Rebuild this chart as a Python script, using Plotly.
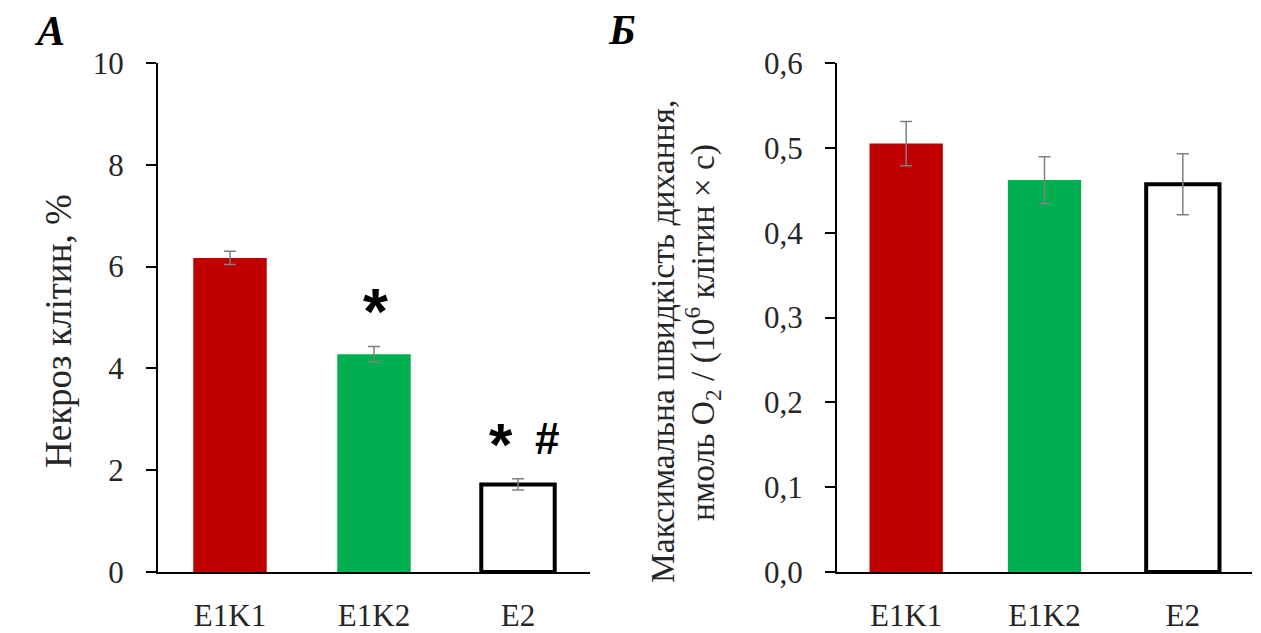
import plotly.graph_objects as go

# figure fills the whole window; the page's default body margin is removed in post_script
OFF = 0
W, H = 1261, 633

categories = ["E1K1", "E1K2", "E2"]

necrosis = [6.17, 4.28, 1.72]
necrosis_err = [0.13, 0.15, 0.11]

resp = [0.505, 0.462, 0.457]
resp_err = [0.026, 0.0275, 0.036]

yticks_a = [0, 2, 4, 6, 8, 10]
yticks_b = [0.0, 0.1, 0.2, 0.3, 0.4, 0.5, 0.6]
yticklabels_b = ["0,0", "0,1", "0,2", "0,3", "0,4", "0,5", "0,6"]

fill_colors = ["#C00000", "#00B050", "#FFFFFF"]
line_colors = ["#C00000", "#00B050", "#000000"]
line_widths = [0, 0, 4]

SERIF = '"Liberation Serif", "Times New Roman", Times, serif'
SANS = '"Liberation Sans", Arial, sans-serif'
TXT = "#262626"


def px(x):
    return (x - OFF) / W


def py(y):
    return 1 - (y - OFF) / H


fig = go.Figure()

fig.add_trace(go.Bar(
    x=categories, y=necrosis, width=0.51,
    marker=dict(color=fill_colors, line=dict(color=line_colors, width=line_widths)),
    error_y=dict(type="data", array=necrosis_err, color="#808080", thickness=1.5, width=6),
    xaxis="x", yaxis="y", showlegend=False,
))
fig.add_trace(go.Bar(
    x=categories, y=resp, width=0.53,
    marker=dict(color=fill_colors, line=dict(color=line_colors, width=line_widths)),
    error_y=dict(type="data", array=resp_err, color="#808080", thickness=1.5, width=6),
    xaxis="x2", yaxis="y2", showlegend=False,
))

ydom = [py(572), py(63)]
axis_common_x = dict(
    showline=True, linecolor="black", linewidth=2, ticks="", showgrid=False,
    tickfont=dict(family=SERIF, size=31, color=TXT), ticklabelstandoff=15,
    zeroline=False, automargin=False, fixedrange=True,
)
axis_common_y = dict(
    showline=True, linecolor="black", linewidth=2, ticks="outside", ticklen=10,
    tickwidth=2, tickcolor="black", showgrid=False, zeroline=False,
    tickfont=dict(family=SERIF, size=31, color=TXT), ticklabelstandoff=16,
    automargin=False, fixedrange=True,
)

fig.update_layout(
    width=W, height=H,
    margin=dict(l=0, r=0, t=0, b=0),
    paper_bgcolor="white", plot_bgcolor="white",
    showlegend=False,
    xaxis=dict(domain=[px(158), px(590)], anchor="y", range=[-0.5, 2.5], **axis_common_x),
    yaxis=dict(domain=ydom, anchor="x", range=[0, 10], tickvals=yticks_a, **axis_common_y),
    xaxis2=dict(domain=[px(837), px(1252)], anchor="y2", range=[-0.5, 2.5], **axis_common_x),
    yaxis2=dict(domain=ydom, anchor="x2", range=[0, 0.6], tickvals=yticks_b,
                ticktext=yticklabels_b, **axis_common_y),
)

annotations = [
    dict(text="<b><i>А</i></b>", x=px(49), y=py(31), font=dict(family=SERIF, size=42, color="black")),
    dict(text="<b><i>Б</i></b>", x=px(622), y=py(30), font=dict(family=SERIF, size=42, color="black")),
    dict(text="Некроз клітин, %", x=px(58), y=py(331), textangle=-90,
         font=dict(family=SERIF, size=37, color=TXT)),
    dict(text="Максимальна швидкість дихання,", x=px(662), y=py(342), textangle=-90,
         font=dict(family=SERIF, size=33.5, color=TXT)),
    dict(text="нмоль O<sub>2</sub> / (10<sup>6</sup> клітин × с)", x=px(702), y=py(333), textangle=-90,
         font=dict(family=SERIF, size=33.5, color=TXT)),
    dict(text="<b>*</b>", x=px(375), y=py(312), font=dict(family=SANS, size=64, color="black")),
    dict(text="<b>*</b>", x=px(501), y=py(444), font=dict(family=SANS, size=60, color="black")),
    dict(text="<b>#</b>", x=px(547), y=py(438), font=dict(family=SANS, size=44, color="black")),
]
for a in annotations:
    a.update(xref="paper", yref="paper", showarrow=False, xanchor="center", yanchor="middle")
fig.update_layout(annotations=annotations)

fig.write_html(
    "out.html",
    config={"displayModeBar": False},
    post_script="document.body.style.margin='0';document.body.style.overflow='hidden';",
)
